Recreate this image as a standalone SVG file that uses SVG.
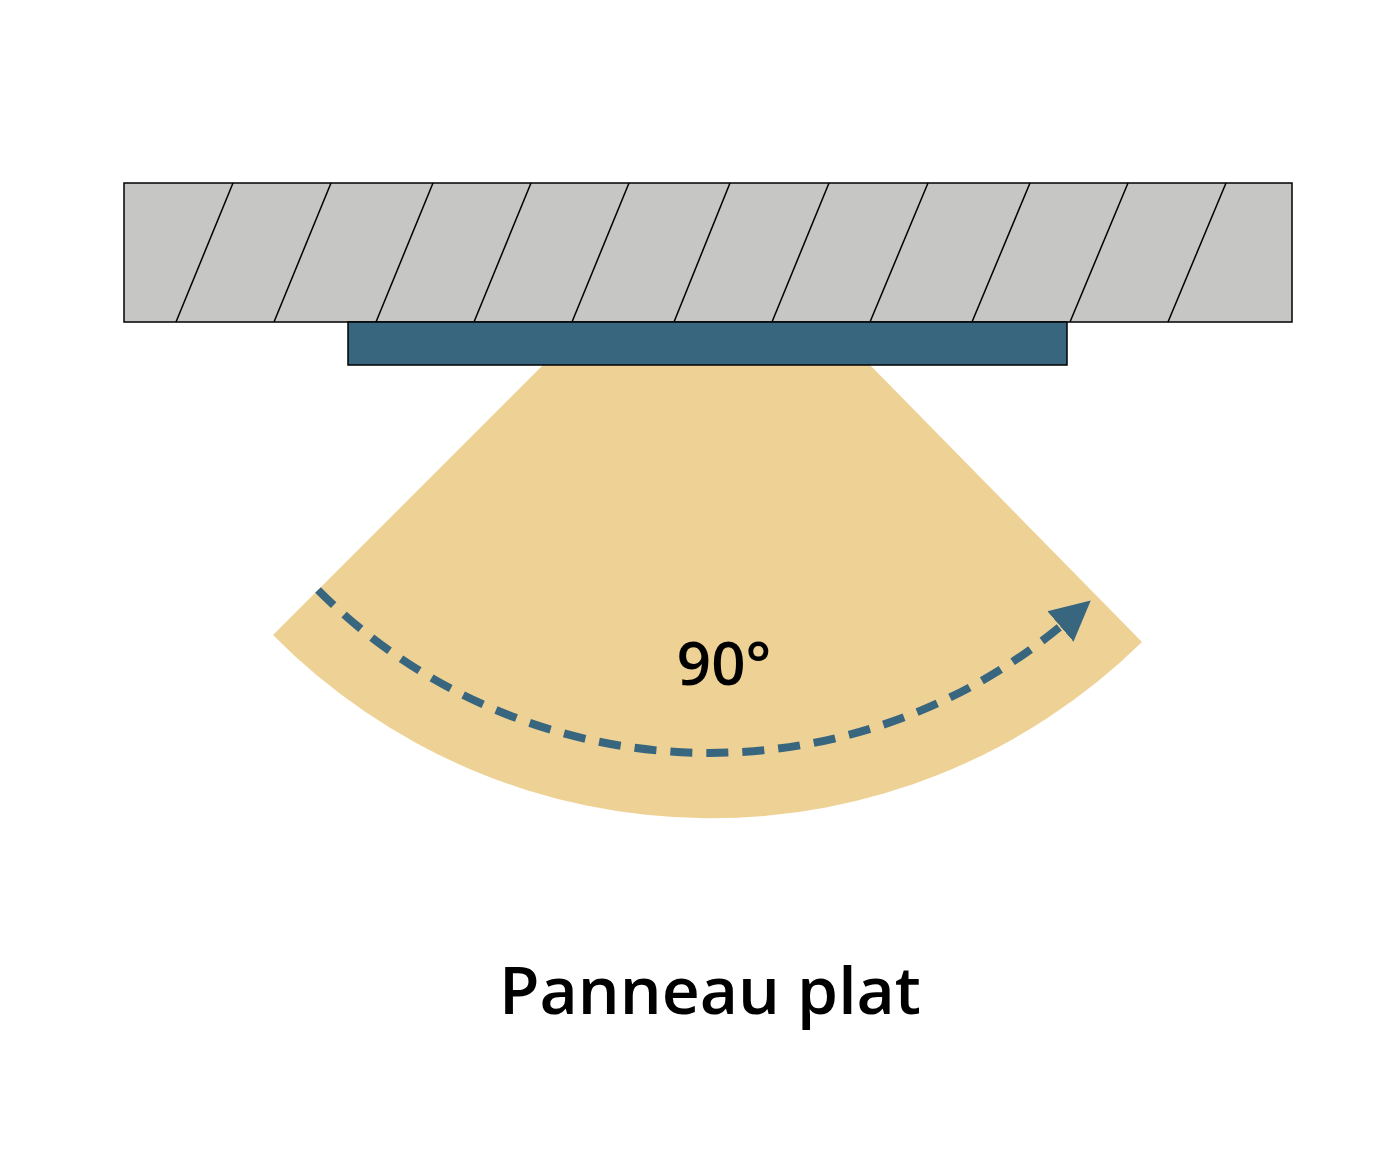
<svg xmlns="http://www.w3.org/2000/svg" width="1386" height="1166" viewBox="0 0 1386 1166">
<defs>
<marker id="arr" markerUnits="userSpaceOnUse" markerWidth="50" markerHeight="50" refX="10" refY="25" orient="auto">
<path d="M0,5 L40,25 L0,45 Z" fill="#39667f"/>
</marker>
<style>.h{stroke:#000;stroke-width:1.5}.t{font-family:"Open Sans","Liberation Sans",sans-serif;font-weight:600;fill:#000;text-anchor:middle}</style>
</defs>
<rect width="1386" height="1166" fill="#fff"/>
<path d="M543,365 L273,635 A615,615 0 0 0 1142,642 L870,365 Z" fill="#eed194"/>
<rect x="124" y="183" width="1168" height="139" fill="#c6c6c4" stroke="#000" stroke-width="1.5"/>
<g class="h">
<line x1="176" y1="322" x2="233" y2="183"/><line x1="274" y1="322" x2="331" y2="183"/><line x1="376" y1="322" x2="433" y2="183"/><line x1="474" y1="322" x2="531" y2="183"/><line x1="572" y1="322" x2="629" y2="183"/><line x1="674" y1="322" x2="730" y2="183"/><line x1="772" y1="322" x2="829" y2="183"/><line x1="870" y1="322" x2="928" y2="183"/><line x1="972" y1="322" x2="1030" y2="183"/><line x1="1070" y1="322" x2="1128" y2="183"/><line x1="1168" y1="322" x2="1226" y2="183"/>
</g>
<rect x="348" y="322" width="719" height="43" fill="#39667f" stroke="#000" stroke-width="1.5"/>
<path d="M318,590 A551,551 0 0 0 1068,620" fill="none" stroke="#39667f" stroke-width="8" stroke-dasharray="22 14" marker-end="url(#arr)"/>
<text class="t" x="724" y="685" font-size="60">90°</text>
<text class="t" x="710" y="1014" font-size="66">Panneau plat</text>
</svg>
